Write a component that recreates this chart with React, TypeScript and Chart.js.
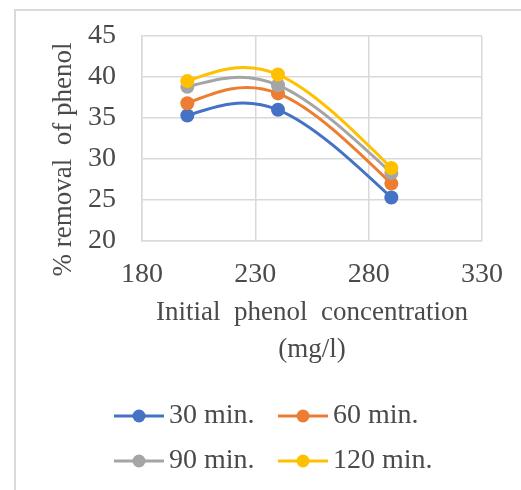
import { useEffect, useRef } from "react";
import { Chart, registerables } from "chart.js";

Chart.register(...registerables);

// Initial phenol concentration (mg/l)
const concentrations = [200, 240, 290];

// % removal of phenol for each contact time
const removal30 = [35.3, 36.0, 25.3];
const removal60 = [36.8, 38.0, 27.0];
const removal90 = [38.8, 39.0, 28.3];
const removal120 = [39.5, 40.3, 28.9];

const seriesNames = ["30 min.", "60 min.", "90 min.", "120 min."];
const seriesColors = ["#4472C4", "#ED7D31", "#A5A5A5", "#FFC000"];

const xMin = 180;
const xMax = 330;
const xStep = 50;
const yMin = 20;
const yMax = 45;
const yStep = 5;

const xTitle = ["Initial  phenol  concentration", "(mg/l)"];
const yTitle = "% removal  of phenol";

const FONT = "'Liberation Serif', 'Times New Roman', serif";
const TEXT = "#4a4a4a";
const GRID = "#d9d9d9";

// Smoothed-line control points: Catmull-Rom tangents at inner points,
// natural (zero curvature) ends.
const smoothLinePlugin = {
  id: "smoothLine",
  beforeDatasetsDraw(chart: any) {
    chart.getSortedVisibleDatasetMetas().forEach((meta: any) => {
      const pts = meta.data;
      const n = pts.length;
      if (n < 3 || !meta.dataset) return;
      for (let i = 1; i < n - 1; i++) {
        const tx = (pts[i + 1].x - pts[i - 1].x) / 6;
        const ty = (pts[i + 1].y - pts[i - 1].y) / 6;
        pts[i].cp1x = pts[i].x - tx;
        pts[i].cp1y = pts[i].y - ty;
        pts[i].cp2x = pts[i].x + tx;
        pts[i].cp2y = pts[i].y + ty;
      }
      const first = pts[0];
      const last = pts[n - 1];
      first.cp1x = first.x;
      first.cp1y = first.y;
      first.cp2x = (first.x + pts[1].cp1x) / 2;
      first.cp2y = (first.y + pts[1].cp1y) / 2;
      last.cp2x = last.x;
      last.cp2y = last.y;
      last.cp1x = (last.x + pts[n - 2].cp2x) / 2;
      last.cp1y = (last.y + pts[n - 2].cp2y) / 2;
      meta.dataset._pointsUpdated = true;
      meta.dataset._path = undefined;
    });
  },
};

// Vertical axis title and the two-column legend under the chart
const annotationsPlugin = {
  id: "axisTitleAndLegend",
  afterDraw(chart: any) {
    const { ctx, chartArea } = chart;
    ctx.save();
    ctx.translate(48, (chartArea.top + chartArea.bottom) / 2 + 21);
    ctx.rotate(-Math.PI / 2);
    ctx.font = `27px ${FONT}`;
    ctx.fillStyle = TEXT;
    ctx.textAlign = "center";
    ctx.textBaseline = "middle";
    ctx.fillText(yTitle, 0, 0);
    ctx.restore();

    const colX = [chartArea.left - 28, chartArea.left + 136];
    const rowY = [chartArea.bottom + 175, chartArea.bottom + 220];
    ctx.save();
    ctx.font = `28px ${FONT}`;
    ctx.textAlign = "left";
    ctx.textBaseline = "middle";
    chart.data.datasets.forEach((ds: any, i: number) => {
      const x = colX[i % 2];
      const y = rowY[Math.floor(i / 2)];
      ctx.strokeStyle = ds.borderColor;
      ctx.lineWidth = 3;
      ctx.beginPath();
      ctx.moveTo(x, y);
      ctx.lineTo(x + 50, y);
      ctx.stroke();
      ctx.fillStyle = ds.borderColor;
      ctx.beginPath();
      ctx.arc(x + 25, y, 6.5, 0, Math.PI * 2);
      ctx.fill();
      ctx.fillStyle = TEXT;
      ctx.fillText(ds.label, x + 55, y);
    });
    ctx.restore();
  },
};

export default function App() {
  const canvasRef = useRef<HTMLCanvasElement | null>(null);

  useEffect(() => {
    if (!canvasRef.current) return;
    const seriesValues = [removal30, removal60, removal90, removal120];
    const datasets = seriesValues.map((vals, i) => ({
      label: seriesNames[i],
      data: vals.map((y, j) => ({ x: concentrations[j], y })),
      borderColor: seriesColors[i],
      backgroundColor: seriesColors[i],
      pointBackgroundColor: seriesColors[i],
      pointBorderWidth: 0,
      pointRadius: 7,
      pointHoverRadius: 7,
      borderWidth: 3,
      tension: 0.5,
      fill: false,
      order: seriesValues.length - i,
    }));

    const chart = new Chart(canvasRef.current, {
      type: "line",
      data: { datasets },
      plugins: [smoothLinePlugin, annotationsPlugin],
      options: {
        animation: false,
        responsive: false,
        layout: { padding: { left: 32, right: 39, top: 25, bottom: 105 } },
        plugins: {
          tooltip: { enabled: false },
          legend: { display: false },
        },
        scales: {
          x: {
            type: "linear",
            min: xMin,
            max: xMax,
            afterFit: (s: any) => {
              s.height = 144;
            },
            ticks: {
              stepSize: xStep,
              padding: 17,
              color: TEXT,
              font: { family: FONT, size: 28 },
            },
            grid: { color: GRID, lineWidth: 1.5, drawTicks: false },
            border: { color: GRID, width: 1.5 },
            title: {
              display: true,
              text: xTitle,
              color: TEXT,
              font: { family: FONT, size: 27, lineHeight: 37 / 27 },
              padding: { top: 0, bottom: 16.5 },
            },
          },
          y: {
            min: yMin,
            max: yMax,
            afterFit: (s: any) => {
              s.width = 94;
              s.paddingTop = 17;
              s.paddingBottom = 17;
            },
            ticks: {
              stepSize: yStep,
              padding: 26,
              color: TEXT,
              font: { family: FONT, size: 28 },
            },
            grid: { color: GRID, lineWidth: 1.5, drawTicks: false },
            border: { color: GRID, width: 1.5 },
          },
        },
      },
    } as any);

    return () => chart.destroy();
  }, []);

  return (
    <div
      style={{
        position: "absolute",
        left: 14,
        top: 9,
        width: 507,
        height: 481,
        boxSizing: "border-box",
        borderTop: `2px solid ${GRID}`,
        borderLeft: `2px solid ${GRID}`,
        background: "#fff",
        overflow: "hidden",
      }}
    >
      <canvas ref={canvasRef} width={505} height={479} style={{ display: "block" }} />
    </div>
  );
}
